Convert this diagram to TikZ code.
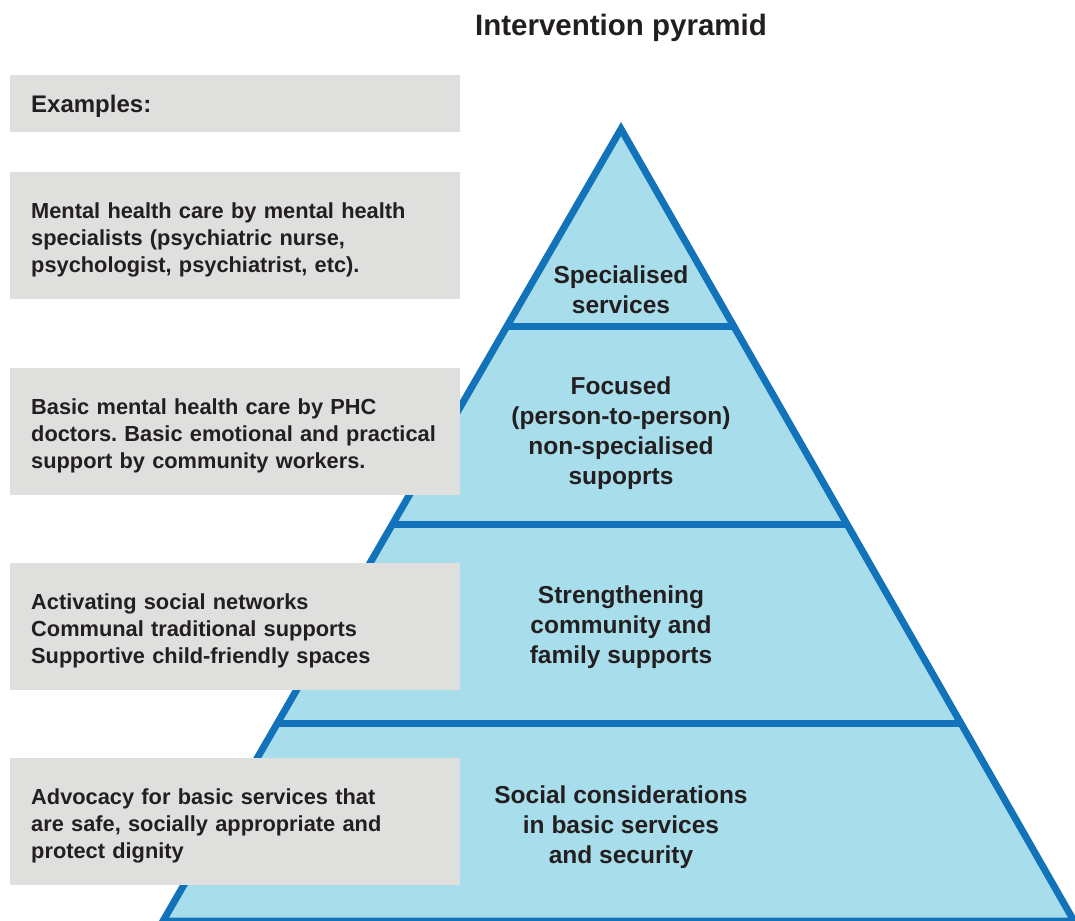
\documentclass[tikz,border=0pt]{standalone}
\usepackage{fontspec}
\setmainfont{Liberation Sans}
\usetikzlibrary{calc}
\definecolor{pyrfill}{RGB}{168,221,235}
\definecolor{pyrline}{RGB}{18,115,186}
\definecolor{boxgrey}{RGB}{223,223,222}
\definecolor{textdark}{RGB}{35,31,32}
\begin{document}
\frenchspacing
\begin{tikzpicture}[x=1bp,y=-1bp]
	\tikzset{exbox/.style={fill=boxgrey,anchor=west,align=left,
			minimum width=450bp,text width=408bp,inner xsep=21bp,inner ysep=0pt,
			text height=24bp,text=textdark,
			font=\bfseries\fontsize{21.8bp}{27bp}\selectfont,
			execute at begin node={\hyphenpenalty=10000\relax}},
		layerlabel/.style={align=center,text=textdark,
			font=\bfseries\fontsize{24.5bp}{30bp}\selectfont}}
	\def\lw{7bp}
	\def\ytop{129} \def\ybot{921}% apex and base of the pyramid
	\useasboundingbox (0,0) rectangle (1075,921);
	\clip (0,0) rectangle (1075,921);
	\coordinate (A) at (621,\ytop);
	\coordinate (BL) at (163,\ybot);
	\coordinate (BR) at (1074,\ybot);
	\filldraw[fill=pyrfill,draw=pyrline,line width=\lw,line join=miter]
		(A)--(BL)--(BR)--cycle;
	% dividers between the layers
	\foreach \y in {326,524,723}
		\draw[pyrline,line width=\lw]
			($(A)!{(\y-\ytop)/(\ybot-\ytop)}!(BL)$)--($(A)!{(\y-\ytop)/(\ybot-\ytop)}!(BR)$);
	\node[font=\bfseries\fontsize{29.5bp}{34bp}\selectfont,text=textdark] (title) at (621,28) {Intervention pyramid};
	\node[layerlabel] (spec) at (621,290) {Specialised\\services};
	\node[layerlabel] (focus) at (621,433) {Focused\\(person-to-person)\\non-specialised\\supoprts};
	\node[layerlabel] (comm) at (621,627) {Strengthening\\community and\\family supports};
	\node[layerlabel] (basic) at (621,827) {Social considerations\\in basic services\\and security};
	\node[exbox,minimum height=57bp,text height=23bp,font=\bfseries\fontsize{24bp}{28bp}\selectfont] (ex) at (10,103.5) {Examples:};
	\node[exbox,minimum height=127bp] (ex1) at (10,235.5)
		{Mental health care by mental health\\specialists (psychiatric nurse,\\psychologist, psychiatrist, etc).};
	\node[exbox,minimum height=127bp] (ex2) at (10,431.5)
		{Basic mental health care by PHC\\doctors. Basic emotional and practical\\support by community workers.};
	\node[exbox,minimum height=127bp] (ex3) at (10,626.5)
		{Activating social networks\\Communal traditional supports\\Supportive child-friendly spaces};
	\node[exbox,minimum height=127bp] (ex4) at (10,821.5)
		{Advocacy for basic services that\\are safe, socially appropriate and\\protect dignity};
\end{tikzpicture}
\end{document}
